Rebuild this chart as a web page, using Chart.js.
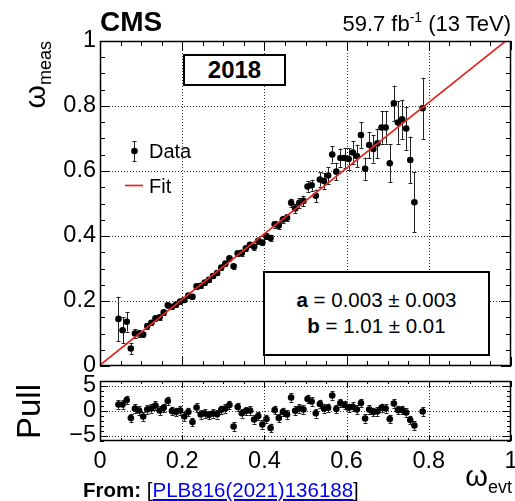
<!DOCTYPE html>
<html><head><meta charset="utf-8">
<script src="https://cdn.jsdelivr.net/npm/chart.js@4.4.1/dist/chart.umd.min.js"></script>
<style>
html,body{margin:0;padding:0;background:#fff;}
body{width:515px;height:501px;position:relative;overflow:hidden;font-family:"Liberation Sans",Arial,sans-serif;color:#000;}
canvas{position:absolute;left:0;}
.t{position:absolute;white-space:nowrap;line-height:1;}
.box{position:absolute;border:2px solid #000;box-sizing:border-box;background:#fff;}
.rot{position:absolute;white-space:nowrap;line-height:1;transform-origin:0 0;transform:rotate(-90deg);text-align:right;}
a{color:#0000ee;text-decoration:underline;}
</style></head><body>
<canvas id="main" width="515" height="375" style="top:0;width:515px;height:375px"></canvas>
<canvas id="pull" width="515" height="126" style="top:375px;width:515px;height:126px"></canvas>

<div class="t" style="left:100px;top:8px;font-size:28px;font-weight:bold;">CMS</div>
<div class="t" style="right:4px;top:13px;font-size:22px;">59.7 fb<span style="font-size:14px;position:relative;top:-9px;">-1</span> (13 TeV)</div>

<div class="box" style="left:183px;top:54px;width:103px;height:32px;display:flex;align-items:center;justify-content:center;font-size:24px;font-weight:bold;">2018</div>

<div class="t" style="left:149px;top:141px;font-size:20px;">Data</div>
<div class="t" style="left:149px;top:176px;font-size:20px;">Fit</div>

<div class="box" style="left:263px;top:271px;width:227px;height:85px;"></div>
<div class="t" style="left:263px;width:227px;text-align:center;top:290px;font-size:20.5px;"><b>a</b> = 0.003 ± 0.003</div>
<div class="t" style="left:263px;width:227px;text-align:center;top:316px;font-size:20.5px;"><b>b</b> = 1.01 ± 0.01</div>

<div class="rot" style="left:20px;top:191px;width:150px;font-size:30px;">ω<span style="font-size:18px;position:relative;top:6px;">meas</span></div>
<div class="rot" style="left:12px;top:534px;width:150px;font-size:33px;">Pull</div>

<div class="t" style="right:3px;top:462px;font-size:29px;">ω<span style="font-size:18px;position:relative;top:7px;">evt</span></div>

<div class="t" style="left:83px;top:480px;font-size:20.5px;"><b>From:</b> [<a href="#">PLB816(2021)136188</a>]</div>

<script>
// ---- data ----
const binCenters = [
  0.045,0.055,0.065,0.075,0.085,0.095,0.105,0.115,0.125,0.135,
  0.145,0.155,0.165,0.175,0.185,0.195,0.205,0.215,0.225,0.235,
  0.245,0.255,0.265,0.275,0.285,0.295,0.305,0.315,0.325,0.335,
  0.345,0.355,0.365,0.375,0.385,0.395,0.405,0.415,0.425,0.435,
  0.445,0.455,0.465,0.475,0.485,0.495,0.505,0.515,0.525,0.535,
  0.545,0.555,0.565,0.575,0.585,0.595,0.605,0.615,0.625,0.635,
  0.645,0.655,0.665,0.675,0.685,0.695,0.705,0.715,0.725,0.735,
  0.745,0.755,0.765,0.785
];
const omegaMeas = [
  0.145,0.110,0.136,0.054,0.100,0.100,0.097,0.123,0.133,0.147,
  0.150,0.165,0.187,0.182,0.189,0.198,0.203,0.217,0.213,0.245,
  0.247,0.257,0.265,0.277,0.286,0.303,0.315,0.331,0.307,0.347,
  0.348,0.362,0.373,0.367,0.385,0.380,0.399,0.394,0.436,0.432,
  0.451,0.456,0.502,0.485,0.502,0.508,0.552,0.556,0.524,0.574,
  0.569,0.586,0.651,0.598,0.640,0.640,0.637,0.657,0.646,0.711,
  0.607,0.680,0.668,0.685,0.734,0.734,0.624,0.808,0.749,0.759,
  0.731,0.634,0.504,0.793
];
const omegaErr = [
  0.068,0.040,0.030,0.017,0.014,0.011,0.009,0.008,0.008,0.008,
  0.007,0.007,0.008,0.007,0.007,0.007,0.007,0.007,0.008,0.007,
  0.007,0.007,0.007,0.007,0.007,0.007,0.007,0.008,0.008,0.008,
  0.008,0.008,0.008,0.009,0.009,0.009,0.009,0.009,0.010,0.010,
  0.010,0.011,0.013,0.014,0.015,0.016,0.016,0.017,0.019,0.022,
  0.024,0.025,0.025,0.027,0.029,0.030,0.033,0.036,0.035,0.040,
  0.034,0.040,0.042,0.045,0.050,0.050,0.058,0.055,0.065,0.060,
  0.066,0.072,0.092,0.094
];
const pullValues = [
  1.3,1.3,2.2,-1.4,0.5,0.1,-1.1,0.3,0.5,1.1,
  0.1,0.65,2.0,0.0,-0.2,0.1,-1.1,-0.2,-2.2,0.7,
  -0.7,-0.5,-0.8,-0.5,-0.65,0.25,0.5,1.2,-3.1,0.8,
  -0.45,0.0,0.1,-1.7,-1.0,-2.7,-1.6,-3.4,0.2,-1.4,
  -0.2,-0.7,2.7,0.05,0.5,0.3,2.4,1.9,-0.45,1.4,
  0.5,0.65,3.1,0.4,1.6,1.2,0.65,0.85,0.3,1.6,
  -1.5,0.3,-0.2,-0.1,0.65,0.5,-1.6,1.5,0.2,0.2,
  -0.3,-1.8,-2.9,-0.1
];
const pullErr = 0.85;
const fitA = 0.003;
const fitB = 1.01;
const fitX = [0, 1];

const xTicks = [0, 0.2, 0.4, 0.6, 0.8, 1];
const xTickLabels = ['0', '0.2', '0.4', '0.6', '0.8', '1'];
const yTicks = [0, 0.2, 0.4, 0.6, 0.8, 1];
const yTickLabels = ['0', '0.2', '0.4', '0.6', '0.8', '1'];
const pullTicks = [-5, 0, 5];
const pullTickLabels = ['\u22125', '0', '5'];

// ---- helpers ----
const FONT = 'Liberation Sans';

function decor(o) {
  return {
    id: 'decor',
    beforeDatasetsDraw(chart) {
      const {ctx, chartArea: a} = chart;
      const x = chart.scales.x, y = chart.scales.y;
      ctx.save();
      ctx.strokeStyle = '#333'; ctx.lineWidth = 1; ctx.setLineDash([1, 2]);
      ctx.beginPath();
      o.gridX.forEach(v => { const p = Math.round(x.getPixelForValue(v)) + 0.5; ctx.moveTo(p, a.top); ctx.lineTo(p, a.bottom); });
      o.gridY.forEach(v => { const p = Math.round(y.getPixelForValue(v)) + 0.5; ctx.moveTo(a.left, p); ctx.lineTo(a.right, p); });
      ctx.stroke();
      ctx.setLineDash([]);
      // error bars
      const ds = chart.data.datasets[o.dataIndex];
      ctx.strokeStyle = '#222'; ctx.lineWidth = 1;
      ctx.beginPath();
      ds.data.forEach((pt, i) => {
        const e = o.err(i);
        const px = Math.round(x.getPixelForValue(pt.x)) + 0.5;
        let y1 = y.getPixelForValue(pt.y + e), y2 = y.getPixelForValue(pt.y - e);
        y1 = Math.max(y1, a.top); y2 = Math.min(y2, a.bottom);
        ctx.moveTo(px, y1); ctx.lineTo(px, y2);
        ctx.moveTo(px - 2, Math.round(y1) + 0.5); ctx.lineTo(px + 2, Math.round(y1) + 0.5);
        ctx.moveTo(px - 2, Math.round(y2) + 0.5); ctx.lineTo(px + 2, Math.round(y2) + 0.5);
      });
      ctx.stroke();
      ctx.restore();
    },
    afterDatasetsDraw(chart) {
      const {ctx, chartArea: a} = chart;
      const x = chart.scales.x, y = chart.scales.y;
      ctx.save();
      ctx.strokeStyle = '#000'; ctx.lineWidth = 1.5;
      ctx.strokeRect(a.left + 0.5, a.top + 0.5, a.right - a.left - 1, a.bottom - a.top - 1);
      ctx.lineWidth = 1;
      ctx.beginPath();
      const eps = 1e-6;
      for (let v = o.xMin; v <= o.xMax + eps; v += o.xMinor) {
        const major = Math.abs(v / o.xMajor - Math.round(v / o.xMajor)) < 1e-4;
        const L = major ? o.xMajLen : o.xMinLen;
        const p = Math.round(x.getPixelForValue(v)) + 0.5;
        ctx.moveTo(p, a.bottom); ctx.lineTo(p, a.bottom - L);
        ctx.moveTo(p, a.top); ctx.lineTo(p, a.top + L);
      }
      for (let v = o.yMin; v <= o.yMax + eps; v += o.yMinor) {
        const major = Math.abs(v / o.yMajor - Math.round(v / o.yMajor)) < 1e-4;
        const L = major ? o.yMajLen : o.yMinLen;
        const p = Math.round(y.getPixelForValue(v)) + 0.5;
        ctx.moveTo(a.left, p); ctx.lineTo(a.left + L, p);
        ctx.moveTo(a.right, p); ctx.lineTo(a.right - L, p);
      }
      ctx.stroke();
      if (o.legend) o.legend(ctx);
      ctx.restore();
    }
  };
}

const baseOpts = {
  responsive: false, animation: false, devicePixelRatio: 1, events: [],
  plugins: {legend: {display: false}, tooltip: {enabled: false}}
};

// ---- main chart ----
new Chart(document.getElementById('main'), {
  type: 'scatter',
  data: {datasets: [
    {label: 'Fit', type: 'line', data: fitX.map(v => ({x: v, y: fitA + fitB * v})),
     borderColor: '#e3261f', borderWidth: 1.7, pointRadius: 0, showLine: true, fill: false, tension: 0, order: 0},
    {label: 'Data', data: binCenters.map((v, i) => ({x: v, y: omegaMeas[i]})),
     backgroundColor: '#000', borderColor: '#000', pointRadius: 3.3, pointBorderWidth: 0, order: 1}
  ]},
  options: Object.assign({}, baseOpts, {
    layout: {padding: {top: 41, right: 3, left: 0, bottom: 0}},
    scales: {
      x: {type: 'linear', min: 0, max: 1, ticks: {display: false}, grid: {display: false, drawTicks: false}, border: {display: false},
          afterFit(s) { s.height = 9; s.paddingLeft = 0; s.paddingRight = 0; }},
      y: {type: 'linear', min: 0, max: 1,
          afterBuildTicks(s) { s.ticks = yTicks.map(v => ({value: v})); },
          ticks: {font: {family: FONT, size: 23.5}, color: '#000', padding: 4, autoSkip: false, callback: (v, i) => yTickLabels[i]},
          grid: {display: false, drawTicks: false}, border: {display: false},
          afterFit(s) { s.width = 100; s.paddingTop = 0; s.paddingBottom = 0; }}
    }
  }),
  plugins: [decor({
    gridX: [0.2, 0.4, 0.6, 0.8], gridY: [0.2, 0.4, 0.6, 0.8], dataIndex: 1, err: i => omegaErr[i],
    xMin: 0, xMax: 1, xMinor: 0.05, xMajor: 0.2, xMajLen: 9, xMinLen: 5,
    yMin: 0, yMax: 1, yMinor: 0.05, yMajor: 0.2, yMajLen: 10, yMinLen: 5,
    legend(ctx) {
      ctx.strokeStyle = '#222'; ctx.lineWidth = 1;
      ctx.beginPath();
      ctx.moveTo(134.5, 141); ctx.lineTo(134.5, 162);
      ctx.moveTo(132.5, 141.5); ctx.lineTo(136.5, 141.5);
      ctx.moveTo(132.5, 161.5); ctx.lineTo(136.5, 161.5);
      ctx.stroke();
      ctx.fillStyle = '#000';
      ctx.beginPath(); ctx.arc(134.5, 151, 3.3, 0, Math.PI * 2); ctx.fill();
      ctx.strokeStyle = '#e3261f'; ctx.lineWidth = 1.7;
      ctx.beginPath(); ctx.moveTo(125, 185.5); ctx.lineTo(143, 185.5); ctx.stroke();
    }
  })]
});

// ---- pull chart ----
new Chart(document.getElementById('pull'), {
  type: 'scatter',
  data: {datasets: [
    {label: 'Pull', data: binCenters.map((v, i) => ({x: v, y: pullValues[i]})),
     backgroundColor: '#000', borderColor: '#000', pointRadius: 3.3, pointBorderWidth: 0}
  ]},
  options: Object.assign({}, baseOpts, {
    layout: {padding: {top: 6, right: 3, left: 0, bottom: 0}},
    scales: {
      x: {type: 'linear', min: 0, max: 1,
          afterBuildTicks(s) { s.ticks = xTicks.map(v => ({value: v})); },
          ticks: {font: {family: FONT, size: 23.5}, color: '#000', padding: 6, maxRotation: 0, autoSkip: false, callback: (v, i) => xTickLabels[i]},
          grid: {display: false, drawTicks: false}, border: {display: false},
          afterFit(s) { s.height = 60; s.paddingLeft = 0; s.paddingRight = 0; }},
      y: {type: 'linear', min: -6, max: 6,
          afterBuildTicks(s) { s.ticks = pullTicks.map(v => ({value: v})); },
          ticks: {font: {family: FONT, size: 23.5}, color: '#000', padding: 4, autoSkip: false, callback: (v, i) => pullTickLabels[i]},
          grid: {display: false, drawTicks: false}, border: {display: false},
          afterFit(s) { s.width = 100; s.paddingTop = 0; s.paddingBottom = 0; }}
    }
  }),
  plugins: [decor({
    gridX: [0.2, 0.4, 0.6, 0.8], gridY: [-5, 0, 5], dataIndex: 0, err: () => pullErr,
    xMin: 0, xMax: 1, xMinor: 0.05, xMajor: 0.2, xMajLen: 6, xMinLen: 3,
    yMin: -6, yMax: 6, yMinor: 1, yMajor: 5, yMajLen: 8, yMinLen: 4
  })]
});
</script>
</body></html>
